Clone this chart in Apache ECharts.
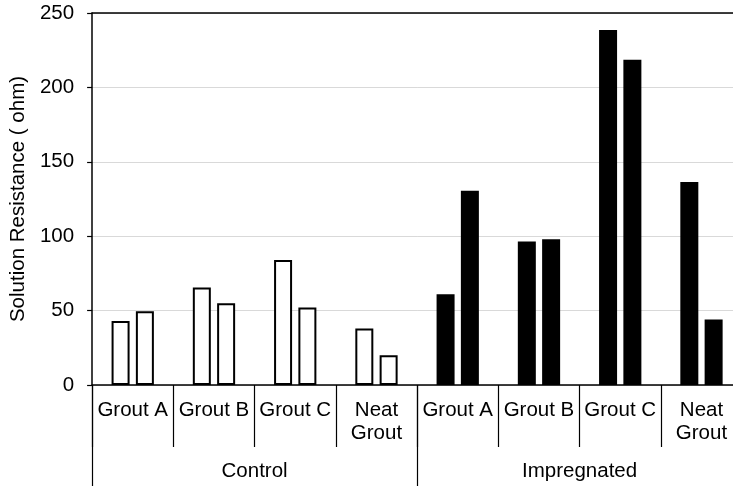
<!DOCTYPE html>
<html>
<head>
<meta charset="utf-8">
<script src="https://cdn.jsdelivr.net/npm/echarts@6/dist/echarts.min.js"></script>
<style>
html,body{margin:0;padding:0;background:#fff;overflow:hidden;width:733px;height:486px;}
#chart{width:745px;height:486px;}
</style>
</head>
<body>
<div id="chart"></div>
<script>
// ---- data ----
var categories = ['Grout A', 'Grout B', 'Grout C', 'Neat\nGrout', 'Grout A', 'Grout B', 'Grout C', 'Neat\nGrout'];
var groups = ['Control', 'Impregnated'];
var controlFirst = [43, 65.5, 84, 38];
var controlSecond = [49.5, 55, 52, 20];
var impregnatedFirst = [61, 96.5, 238.5, 136.5];
var impregnatedSecond = [130.5, 98, 218.5, 44];
var yTicks = [0, 50, 100, 150, 200, 250];
var yTitle = 'Solution Resistance ( ohm)';

// ---- styling ----
var FONT = 'Liberation Sans, Arial, sans-serif';
var FS = 20.5;
var whiteStyle = { color: '#ffffff', borderColor: '#000000', borderWidth: 2 };
var blackStyle = { color: '#000000', borderColor: '#000000', borderWidth: 2 };

function buildData(ctrl, imp) {
  var out = [];
  ctrl.forEach(function (v) { out.push({ value: v, itemStyle: whiteStyle }); });
  imp.forEach(function (v) { out.push({ value: v, itemStyle: blackStyle }); });
  return out;
}

var chart = echarts.init(document.getElementById('chart'), null, { renderer: 'canvas' });
chart.setOption({
  animation: false,
  backgroundColor: '#ffffff',
  textStyle: { fontFamily: FONT },
  grid: { left: 91.5, top: 13, width: 650.6, height: 372, containLabel: false },
  xAxis: [
    {
      type: 'category',
      data: categories,
      position: 'bottom',
      axisLine: { show: true, lineStyle: { color: '#000', width: 1.5 } },
      axisTick: { show: true, length: 62, interval: 0, lineStyle: { color: '#000', width: 1.2 } },
      axisLabel: { interval: 0, color: '#000', fontSize: FS, fontFamily: FONT, margin: 14, lineHeight: 23 },
      splitLine: { show: false }
    },
    {
      type: 'category',
      data: groups,
      position: 'bottom',
      axisLine: { show: false },
      axisTick: { show: true, length: 103, interval: 0, lineStyle: { color: '#000', width: 1.2 } },
      axisLabel: { interval: 0, color: '#000', fontSize: FS, fontFamily: FONT, margin: 76 },
      splitLine: { show: false }
    },
    {
      type: 'category',
      data: categories,
      position: 'top',
      axisLine: { show: true, lineStyle: { color: '#000', width: 1.5 } },
      axisTick: { show: false },
      axisLabel: { show: false },
      splitLine: { show: false }
    }
  ],
  yAxis: {
    type: 'value',
    min: yTicks[0],
    max: yTicks[yTicks.length - 1],
    interval: 50,
    name: yTitle,
    nameLocation: 'middle',
    nameGap: 57,
    nameRotate: 90,
    nameTextStyle: { color: '#000', fontSize: FS, fontFamily: FONT },
    axisLine: { show: true, lineStyle: { color: '#000', width: 1.5 } },
    axisTick: { show: true, length: 5, lineStyle: { color: '#000', width: 1.2 } },
    axisLabel: { color: '#000', fontSize: FS, fontFamily: FONT, margin: 18 },
    splitLine: { show: true, lineStyle: { color: '#d9d9d9', width: 1 } }
  },
  series: [
    {
      type: 'bar',
      xAxisIndex: 0,
      barWidth: 18,
      barGap: '35%',
      data: buildData(controlFirst, impregnatedFirst)
    },
    {
      type: 'bar',
      xAxisIndex: 0,
      barWidth: 18,
      barGap: '35%',
      data: buildData(controlSecond, impregnatedSecond)
    }
  ]
});
</script>
</body>
</html>
